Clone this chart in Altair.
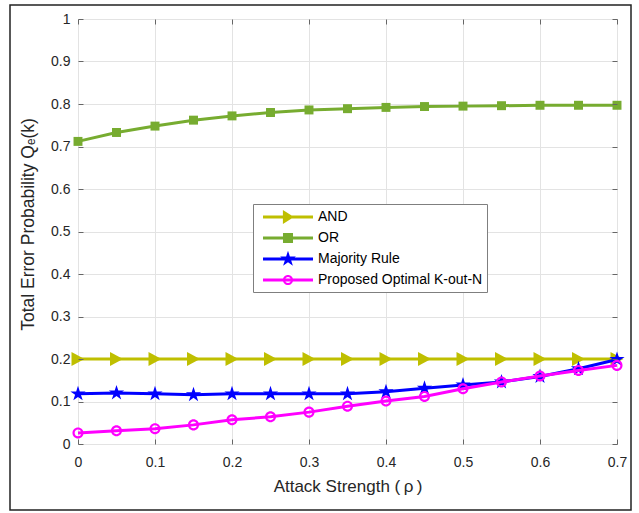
import math
import altair as alt
import pandas as pd

# ---------------- data ----------------
rho = [0.0, 0.05, 0.10, 0.15, 0.20, 0.25, 0.30, 0.35, 0.40, 0.45, 0.50, 0.55, 0.60, 0.65, 0.70]
and_vals = [0.2, 0.2, 0.2, 0.2, 0.2, 0.2, 0.2, 0.2, 0.2, 0.2, 0.2, 0.2, 0.2, 0.2, 0.2]
or_vals = [0.712, 0.733, 0.748, 0.762, 0.772, 0.780, 0.786, 0.789, 0.792, 0.794, 0.795, 0.796, 0.797, 0.797, 0.797]
maj_vals = [0.118, 0.120, 0.118, 0.116, 0.118, 0.118, 0.118, 0.118, 0.123, 0.131, 0.139, 0.146, 0.159, 0.177, 0.199]
pro_vals = [0.026, 0.031, 0.036, 0.045, 0.057, 0.064, 0.075, 0.089, 0.101, 0.112, 0.130, 0.146, 0.160, 0.173, 0.185]

series_names = ["AND", "OR", "Majority Rule", "Proposed Optimal K-out-N"]
series_colors = ["#bfbf00", "#77ac30", "#0000ff", "#ff00ff"]
x_ticks = [0.0, 0.1, 0.2, 0.3, 0.4, 0.5, 0.6, 0.7]
y_ticks = [0.0, 0.1, 0.2, 0.3, 0.4, 0.5, 0.6, 0.7, 0.8, 0.9, 1.0]

rows = []
for name, vals in zip(series_names, [and_vals, or_vals, maj_vals, pro_vals]):
    for r, v in zip(rho, vals):
        rows.append({"rho": r, "value": v, "series": name})
df = pd.DataFrame(rows)

FONT = "Liberation Sans, Arial, Helvetica, sans-serif"
TXT = "#262626"
AXC = "#666666"


# ---------------- marker shapes (SVG paths) ----------------
def fmt(x, y):
    return f"{x:.3f},{y:.3f}"


def tri_path(s_tip, s_base, s_h):
    return f"M{fmt(-s_base, -s_h)}L{fmt(s_tip, 0)}L{fmt(-s_base, s_h)}Z"


def square_path(h):
    return f"M{fmt(-h, -h)}L{fmt(h, -h)}L{fmt(h, h)}L{fmt(-h, h)}Z"


def star_path(R):
    pts = []
    for k in range(10):
        a = math.radians(-90 + 36 * k)
        rad = R if k % 2 == 0 else R * 0.382
        pts.append(fmt(rad * math.cos(a), rad * math.sin(a)))
    return "M" + "L".join(pts) + "Z"


def ring_path(ro, ri):
    return (f"M{fmt(ro, 0)}A{ro:.3f},{ro:.3f} 0 1,1 {fmt(-ro, 0)}A{ro:.3f},{ro:.3f} 0 1,1 {fmt(ro, 0)}Z"
            f"M{fmt(ri, 0)}A{ri:.3f},{ri:.3f} 0 1,0 {fmt(-ri, 0)}A{ri:.3f},{ri:.3f} 0 1,0 {fmt(ri, 0)}Z")


# plot markers: size 256 -> 1 unit = 8 px
plot_shapes = [
    tri_path(0.81, 0.81, 0.87),
    square_path(0.56),
    star_path(1.0),
    ring_path(0.69, 0.42),
]

# legend symbols: size 289 -> 1 unit = 8.5 px ; line + marker
L = 2.94
T = 0.18
line_rect = f"M{fmt(-L, -T)}L{fmt(L, -T)}L{fmt(L, T)}L{fmt(-L, T)}Z"
legend_shapes = [
    line_rect + tri_path(0.7, 0.6, 0.82),
    line_rect + square_path(0.59),
    line_rect + star_path(0.98),
    line_rect + ring_path(0.6, 0.36),
]

x_scale = alt.Scale(domain=[0, 0.7], nice=False)
y_scale = alt.Scale(domain=[0, 1], nice=False)

main_x_axis = alt.Axis(values=x_ticks, format=".1~f", labelFlush=False, labelOverlap=False,
                       labelFont=FONT, labelFontSize=14, labelColor=TXT, labelPadding=11,
                       title="Attack Strength (\u2009ρ\u2009)", titleFont=FONT, titleFontSize=17,
                       titleFontWeight="normal", titleColor=TXT, titlePadding=9,
                       grid=True, gridColor="#e3e3e3", gridWidth=1, domain=False,
                       ticks=False, tickSize=0)
main_y_axis = alt.Axis(values=y_ticks, format=".1~f", labelOverlap=False, labelFlush=False,
                       labelFont=FONT, labelFontSize=14, labelColor=TXT, labelPadding=8,
                       title="Total Error Probability Qₑ(k)", titleFont=FONT, titleFontSize=17.5,
                       titleFontWeight="normal", titleColor=TXT, titlePadding=13, titleY=205,
                       grid=True, gridColor="#e3e3e3", gridWidth=1, domain=False,
                       ticks=False, tickSize=0)


def tick_axis(orient, values):
    return alt.Axis(orient=orient, values=values, labels=False, domain=False, grid=False,
                    ticks=True, tickSize=5, tickColor=AXC, tickWidth=1, offset=-5,
                    title=None, zindex=1)


axes_for = {
    0: (main_x_axis, main_y_axis),
    1: (tick_axis("bottom", x_ticks), tick_axis("left", y_ticks)),
    2: (tick_axis("top", x_ticks), tick_axis("right", y_ticks)),
}

base = alt.Chart(df)
layers = []

# outer figure frame
frame = alt.Chart(pd.DataFrame({"k": [0]})).mark_rect(
    fillOpacity=0, stroke="#222222", strokeWidth=1.5
).encode(x=alt.value(-68), x2=alt.value(553), y=alt.value(-14), y2=alt.value(491))
layers.append(frame)

for i, (name, color, shape) in enumerate(zip(series_names, series_colors, plot_shapes)):
    xa, ya = axes_for.get(i, (None, None))
    line = base.transform_filter(alt.datum.series == name).mark_line(
        color=color, strokeWidth=3
    ).encode(
        x=alt.X("rho:Q", scale=x_scale, axis=xa),
        y=alt.Y("value:Q", scale=y_scale, axis=ya),
    )
    pts = base.transform_filter(alt.datum.series == name).mark_point(
        shape=shape, size=256, filled=True, color=color, opacity=1, strokeWidth=0
    ).encode(
        x=alt.X("rho:Q", scale=x_scale, axis=None),
        y=alt.Y("value:Q", scale=y_scale, axis=None),
    )
    layers += [line, pts]

legend_props = dict(
    orient="none", legendX=175, legendY=185, title=None,
    symbolSize=289, symbolOffset=22, labelOffset=21.5, padding=4.5, rowPadding=5,
    strokeColor="#7f7f7f", fillColor="white", symbolStrokeWidth=0,
    labelFont=FONT, labelFontSize=14, labelColor="#000000", labelLimit=400,
)

legend_layer = base.transform_filter("false").mark_point(filled=True, opacity=1, size=289).encode(
    color=alt.Color("series:N", scale=alt.Scale(domain=series_names, range=series_colors),
                    legend=alt.Legend(**legend_props)),
    shape=alt.Shape("series:N", scale=alt.Scale(domain=series_names, range=legend_shapes),
                    legend=alt.Legend(**legend_props)),
)
layers.append(legend_layer)

chart = alt.layer(*layers).resolve_axis(x="independent", y="independent").properties(
    width=539, height=425, autosize="none",
    padding={"left": 78, "top": 19, "right": 22, "bottom": 69},
    background="white",
).configure_view(stroke=AXC, strokeWidth=1).configure(font=FONT)

chart.save("out.html", embed_options={"renderer": "svg", "actions": False})
